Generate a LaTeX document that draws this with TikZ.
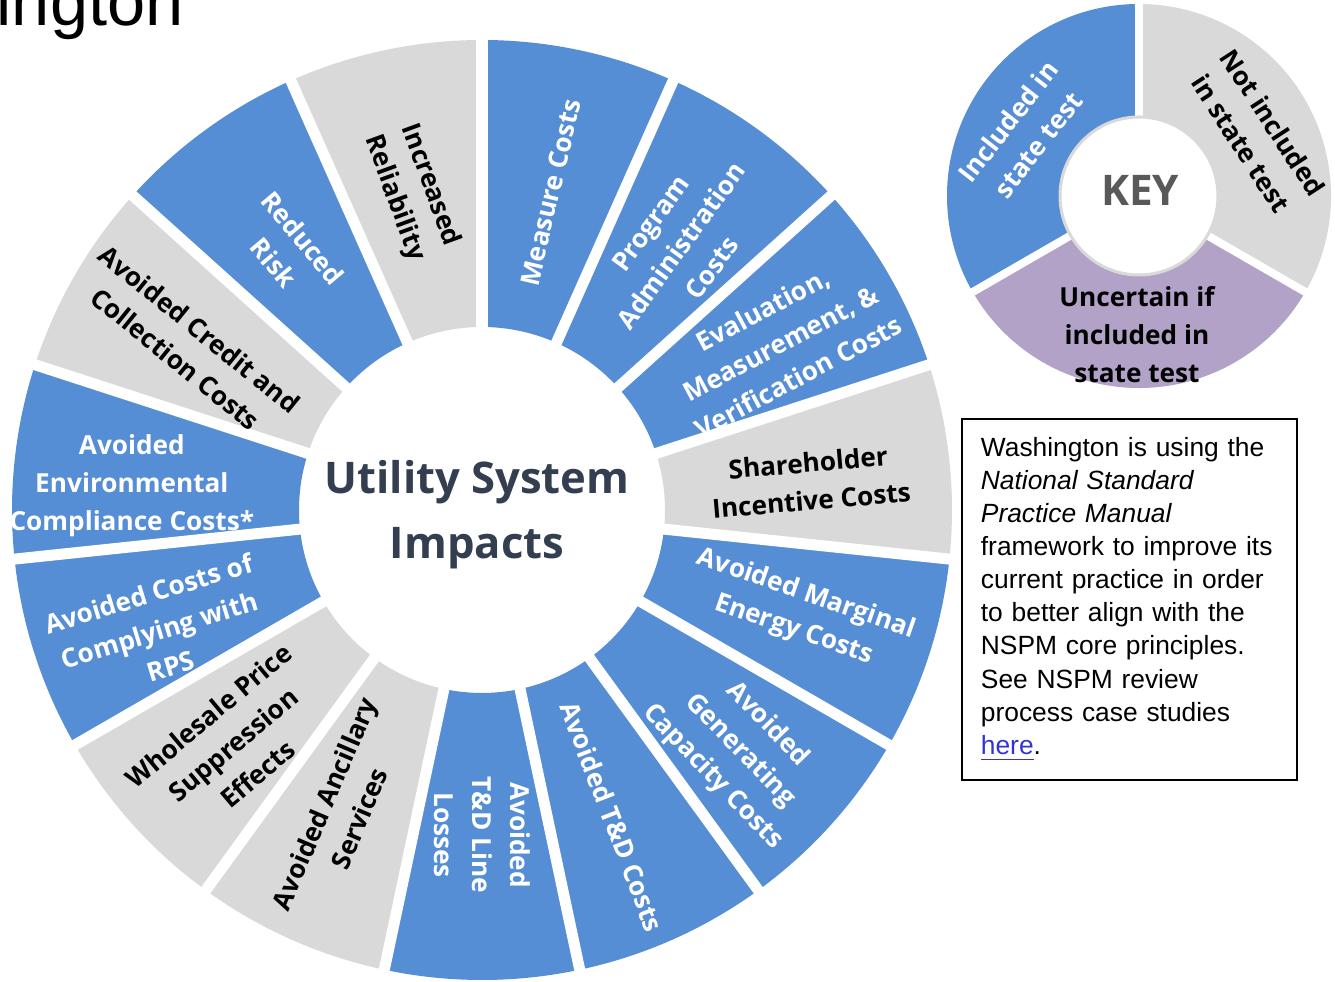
\documentclass[tikz,border=0pt]{standalone}
\usepackage{fontspec}
\setmainfont{Liberation Sans}
\setsansfont{Open Sans}
\usetikzlibrary{calc}
\definecolor{wheelblue}{RGB}{85,142,213}
\definecolor{wheelgray}{RGB}{217,217,217}
\definecolor{keypurple}{RGB}{179,162,199}
\definecolor{hubslate}{RGB}{51,63,80}
\definecolor{keygray}{RGB}{89,89,89}
\definecolor{linkblue}{RGB}{51,51,214}
\def\ringpiece[#1](#2)(#3:#4:#5:#6){\fill[#1] ($(#2)+({#6*cos(#3)},{#6*sin(#3)})$) arc (#3:#4:#6) -- ($(#2)+({#5*cos(#4)},{#5*sin(#4)})$) arc (#4:#3:#5) -- cycle;}
\def\ringgap[#1](#2)(#3:#4){\draw[white,line width=#1] (#2) -- ($(#2)+({#4*cos(#3)},{#4*sin(#3)})$);}

\begin{document}
\begin{tikzpicture}[x=0.01cm,y=0.01cm,
		spoke/.style={align=center,inner sep=0,font=\sffamily\bfseries\fontsize{7.45}{10.8}\selectfont},
		onblue/.style={spoke,text=white},
		ongray/.style={spoke,text=black}]
		%%%%% START %%%%%
		\useasboundingbox (0,0) rectangle (1335,982);
		\coordinate (hub) at (482,472);
		\coordinate (keyhub) at (1139,786);
		
		\begin{scope}
		\clip (0,0) rectangle (1335,982);
		\node[anchor=base west,inner sep=0,font=\fontsize{19.5}{21}\selectfont] (title) at (-4,956) {ington};
		\end{scope}
		
		% wheel
		\ringpiece[wheelblue](hub)(66:90:183:470);
		\ringpiece[wheelblue](hub)(42:66:183:470);
		\ringpiece[wheelblue](hub)(18:42:183:470);
		\ringpiece[wheelgray](hub)(-6:18:183:470);
		\ringpiece[wheelblue](hub)(-30:-6:183:470);
		\ringpiece[wheelblue](hub)(-54:-30:183:470);
		\ringpiece[wheelblue](hub)(-78:-54:183:470);
		\ringpiece[wheelblue](hub)(-102:-78:183:470);
		\ringpiece[wheelgray](hub)(-126:-102:183:470);
		\ringpiece[wheelgray](hub)(-150:-126:183:470);
		\ringpiece[wheelblue](hub)(-174:-150:183:470);
		\ringpiece[wheelblue](hub)(162:186:183:470);
		\ringpiece[wheelgray](hub)(138:162:183:470);
		\ringpiece[wheelblue](hub)(114:138:183:470);
		\ringpiece[wheelgray](hub)(90:114:183:470);
		
		\ringgap[1.1mm](hub)(90:480);
		\ringgap[1.1mm](hub)(66:480);
		\ringgap[1.1mm](hub)(42:480);
		\ringgap[1.1mm](hub)(18:480);
		\ringgap[1.1mm](hub)(-6:480);
		\ringgap[1.1mm](hub)(-30:480);
		\ringgap[1.1mm](hub)(-54:480);
		\ringgap[1.1mm](hub)(-78:480);
		\ringgap[1.1mm](hub)(-102:480);
		\ringgap[1.1mm](hub)(-126:480);
		\ringgap[1.1mm](hub)(-150:480);
		\ringgap[1.1mm](hub)(-174:480);
		\ringgap[1.1mm](hub)(162:480);
		\ringgap[1.1mm](hub)(138:480);
		\ringgap[1.1mm](hub)(114:480);
		
		\node[font=\sffamily\bfseries\fontsize{12.4}{18.5}\selectfont,text=hubslate,align=center] (hubtitle) at (477,467) {Utility System\\Impacts};
		
		\node[onblue,rotate=77] (measure) at ($(hub)+(77.8:325)$) {Measure Costs};
		\node[onblue,rotate=54] (progadmin) at ($(hub)+(53:331)$) {Program\\Administration\\Costs};
		\node[onblue,rotate=28] (emv) at ($(hub)+(29.2:342)$) {Evaluation,\\Measurement, \&\\Verification Costs};
		\node[ongray,rotate=5] (shareholder) at ($(hub)+(5:329)$) {Shareholder\\Incentive Costs};
		\node[onblue,rotate=-19] (energy) at ($(hub)+(-17.8:334)$) {Avoided Marginal\\Energy Costs};
		\node[onblue,rotate=-46] (gencap) at ($(hub)+(-43:353)$) {Avoided\\Generating\\Capacity Costs};
		\node[onblue,rotate=-69] (tdcost) at ($(hub)+(-67:333)$) {Avoided T\&D Costs};
		\node[onblue,rotate=-90] (tdloss) at ($(hub)+(-90:325)$) {Avoided\\T\&D Line\\Losses};
		\node[ongray,rotate=67] (ancillary) at ($(hub)+(-115:332)$) {Avoided Ancillary\\Services};
		\node[ongray,rotate=40] (wholesale) at ($(hub)+(-136.7:342)$) {Wholesale Price\\Suppression\\Effects};
		\node[onblue,rotate=17] (rps) at ($(hub)+(-159.6:344)$) {Avoided Costs of\\Complying with\\RPS};
		\node[onblue] (environ) at ($(hub)+(176:351)$) {Avoided\\Environmental\\Compliance Costs*};
		\node[ongray,rotate=-39] (credit) at ($(hub)+(150.6:338)$) {Avoided Credit and\\Collection Costs};
		\node[onblue,rotate=-50] (risk) at ($(hub)+(126.7:324)$) {Reduced\\Risk};
		\node[ongray,rotate=-70] (reliab) at ($(hub)+(102.4:326)$) {Increased\\Reliability};
		
		% key
		\ringpiece[wheelblue](keyhub)(90:210:80:192);
		\ringpiece[keypurple](keyhub)(210:330:80:192);
		\ringpiece[wheelgray](keyhub)(-30:90:80:192);
		\ringgap[0.8mm](keyhub)(90:200);
		\ringgap[0.8mm](keyhub)(210:200);
		\ringgap[0.8mm](keyhub)(330:200);
		\draw[gray!30,fill=white,line width=0.3mm] (keyhub) circle (79);
		\node[font=\sffamily\bfseries\fontsize{12}{14}\selectfont,text=keygray,inner sep=0] (keyword) at (1140,792) {KEY};
		\node[onblue,rotate=52] (incl) at (1023,849) {Included in\\state test};
		\node[ongray,rotate=-57] (notincl) at (1257,849) {Not included\\in state test};
		\node[ongray] (uncert) at (1137,647) {Uncertain if\\included in\\state test};
		
		% note
		\node[draw,line width=0.2mm,text width=2.97cm,inner xsep=1.9mm,minimum height=3.61cm,align=left,font=\fontsize{7.5}{9.4}\selectfont] (note) at (1129.5,382.5) {Washington is using the\\ \textit{National Standard}\\ \textit{Practice Manual}\\ framework to improve its\\ current practice in order\\ to better align with the\\ NSPM core principles.\\ See NSPM review\\ process case studies\\ \textcolor{linkblue}{\underline{here}}.};
		%%%%% END %%%%%
	\end{tikzpicture}
\end{document}
